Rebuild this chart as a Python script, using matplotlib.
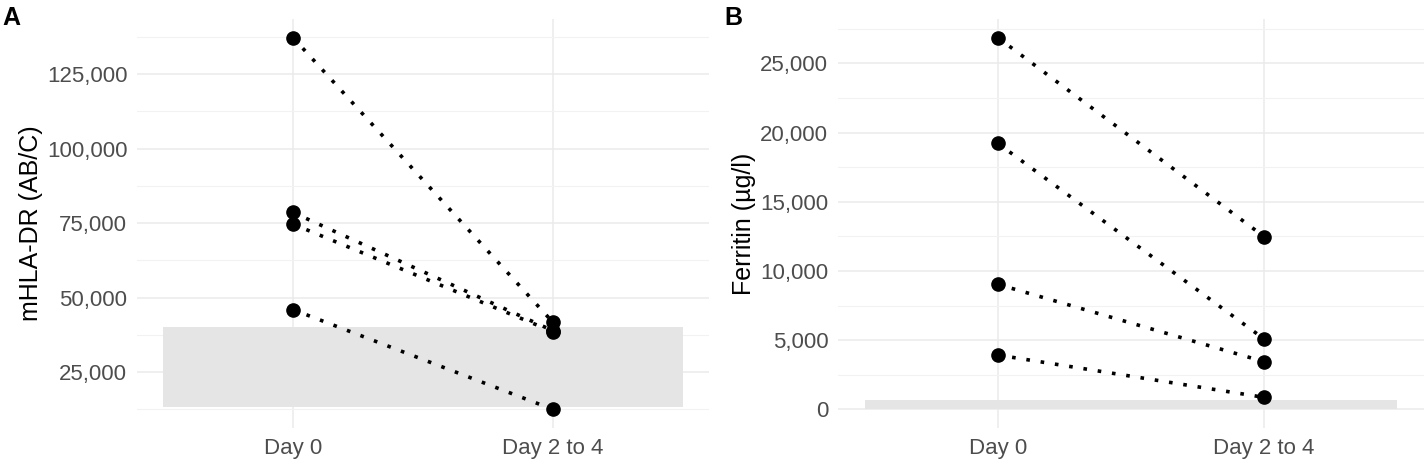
import matplotlib
matplotlib.use("Agg")
import matplotlib.pyplot as plt
import matplotlib.ticker as mticker
from matplotlib.patches import Rectangle

plt.rcParams['font.family'] = ['Liberation Sans', 'DejaVu Sans']

days = ["Day 0", "Day 2 to 4"]

# mHLA-DR (AB/C), one value pair per patient
hla_day0 = [137300, 78600, 74700, 46000]
hla_day24 = [41700, 38900, 38600, 12500]
hla_ref = [13450, 40000]
hla_ticks = [25000, 50000, 75000, 100000, 125000]

# Ferritin (µg/l)
fer_day0 = [26870, 19230, 9040, 3930]
fer_day24 = [12480, 5085, 3446, 870]
fer_ref = [0, 700]
fer_ticks = [0, 5000, 10000, 15000, 20000, 25000]

W, H = 1428, 468
fig = plt.figure(figsize=(W / 100, H / 100), dpi=100)

grid_col = "#EBEBEB"
tick_col = "#4D4D4D"


def panel(rect, v0, v1, ref, ticks, ylab, letter, letter_x):
    ax = fig.add_axes(rect)
    x = range(len(days))
    # reference band
    ax.add_patch(Rectangle((-0.5, ref[0]), 2, ref[1] - ref[0],
                           facecolor="#E5E5E5", edgecolor="none", zorder=1))
    for a, b in zip(v0, v1):
        ax.plot(x, [a, b], color="black", lw=2.6, ls=(0, (1, 3.0)), zorder=3)
    ax.plot([0] * len(v0), v0, "o", color="black", ms=9.5, zorder=4)
    ax.plot([1] * len(v1), v1, "o", color="black", ms=9.5, zorder=4)

    lo = min(min(v0), min(v1), ref[0])
    hi = max(max(v0), max(v1), ref[1])
    pad = (hi - lo) * 0.05
    ax.set_ylim(lo - pad, hi + pad)
    ax.set_xlim(-0.6, 1.6)

    ax.set_xticks(list(x))
    ax.set_xticklabels(days)
    ax.set_yticks(ticks)
    step = ticks[1] - ticks[0]
    minors = [t + step / 2 for t in [ticks[0] - step] + ticks]
    ax.yaxis.set_minor_locator(mticker.FixedLocator(minors))
    ax.yaxis.set_major_formatter(mticker.FuncFormatter(lambda v, p: f"{int(v):,}"))

    ax.grid(True, which="major", color=grid_col, lw=1.1, zorder=0)
    ax.grid(True, which="minor", axis="y", color="#F2F2F2", lw=0.8, zorder=0)
    ax.set_axisbelow(True)
    for s in ax.spines.values():
        s.set_visible(False)
    ax.tick_params(which="both", length=0, labelsize=16, labelcolor=tick_col, pad=7)
    ax.set_ylabel(ylab, fontsize=18, color="black", labelpad=3)
    fig.text(letter_x, 1 - 6 / H, letter, fontsize=18, fontweight="bold",
             va="top", ha="left")
    return ax


bottom = 1 - 428 / H
height = 409 / H
panel([137 / W, bottom, 572 / W, height], hla_day0, hla_day24, hla_ref,
      hla_ticks, "mHLA-DR (AB/C)", "A", 2 / W)
panel([838 / W, bottom, 586 / W, height], fer_day0, fer_day24, fer_ref,
      fer_ticks, "Ferritin (µg/l)", "B", 724 / W)

fig.savefig("out.png", dpi=100)
